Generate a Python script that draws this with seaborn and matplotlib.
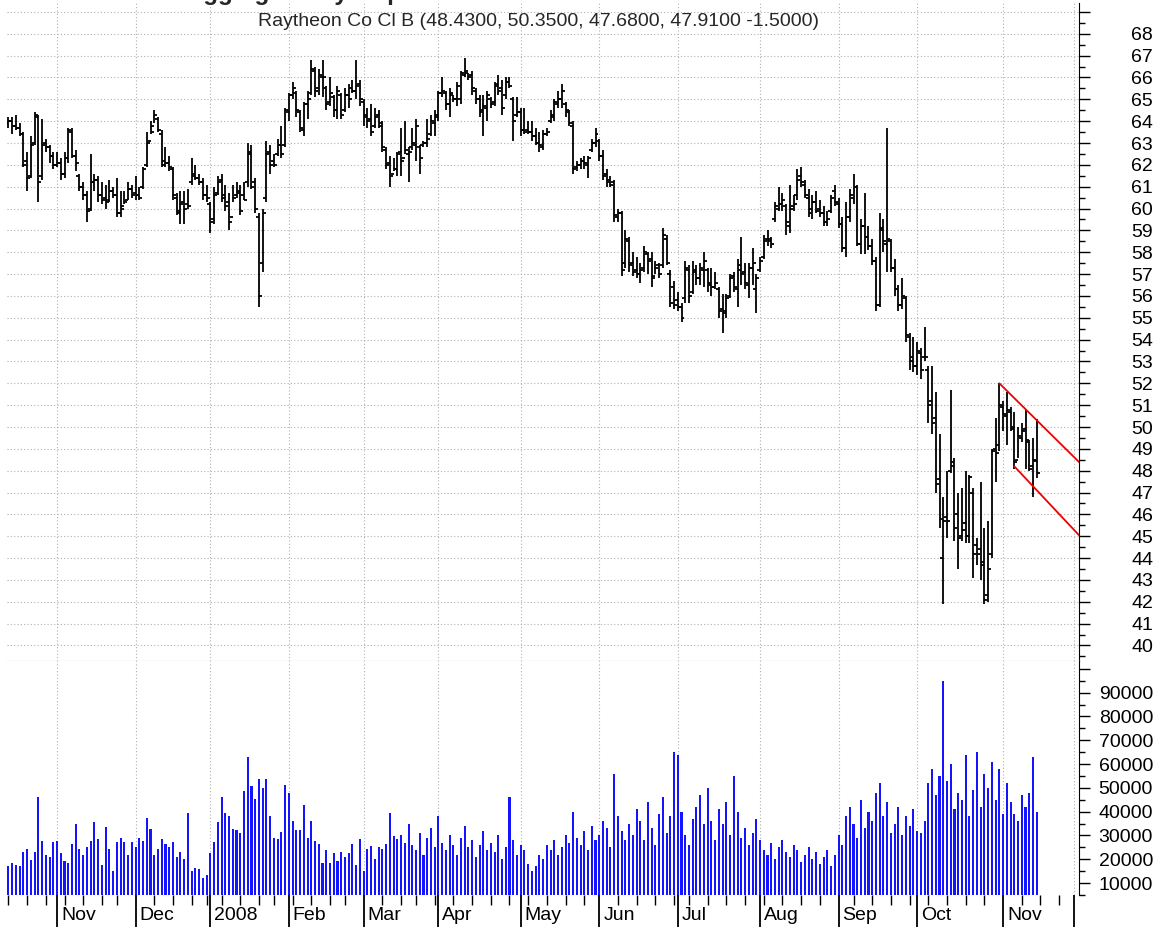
import numpy as np
import pandas as pd
import matplotlib
matplotlib.use("Agg")
import matplotlib.pyplot as plt
import seaborn as sns
from matplotlib.transforms import ScaledTranslation
from matplotlib.ticker import FixedLocator, FixedFormatter, MultipleLocator

# ---------------- data ----------------
holidays = ["2007-11-22", "2007-12-25", "2008-01-01", "2008-01-21", "2008-02-18",
            "2008-03-21", "2008-05-26", "2008-07-04", "2008-09-01", "2008-11-27"]
dates = pd.bdate_range("2007-10-15", "2008-11-14", freq="C", holidays=holidays)
axis_dates = pd.bdate_range("2007-10-15", "2008-12-05", freq="C", holidays=holidays)

highs = [
    64.2, 64.2, 64.3, 63.9, 63.5, 62.6, 63.3, 64.4, 64.3, 64.1, 63.2, 62.9, 62.6,
    62.6, 62.3, 62.6, 63.7, 63.7, 62.7, 61.6, 61.2, 60.8, 62.5, 61.6, 61.5, 61.2, 61.1, 61.3, 61.0, 61.4, 60.8, 60.8, 61.2, 61.1,
    61.5, 61.0, 61.9, 63.5, 64.0, 64.5, 64.2, 63.6, 62.8, 62.4, 61.9, 60.7, 60.8, 60.8, 60.9, 62.3, 62.0, 61.6, 61.4, 61.1,
    60.3, 61.0, 61.5, 61.6, 61.1, 60.7, 61.1, 61.2, 61.1, 61.2, 63.0, 62.9, 61.4, 59.8, 60.0, 63.1, 62.9, 62.5, 63.2, 63.8, 64.6,
    65.3, 65.8, 65.4, 64.5, 64.9, 65.4, 66.8, 66.5, 66.4, 66.8, 65.6, 66.0, 65.2, 65.6, 65.3, 65.5, 65.7, 65.9, 66.8, 65.9,
    65.0, 64.6, 64.8, 64.6, 64.5, 64.0, 62.8, 62.4, 62.3, 62.6, 63.7, 64.0, 62.8, 63.7, 64.1, 62.9, 63.1, 64.1, 64.3, 64.5,
    65.4, 66.0, 65.4, 65.5, 65.2, 65.8, 66.3, 66.9, 66.2, 66.3, 65.5, 65.2, 65.2, 65.4, 65.1, 65.8, 66.1, 65.9, 66.0, 66.0, 65.1, 65.1,
    64.6, 64.6, 64.0, 64.0, 63.7, 63.5, 63.6, 63.7, 64.5, 65.0, 65.4, 65.7, 64.9, 64.5, 64.0, 62.2, 62.3, 62.4, 62.4, 63.2, 63.7,
    63.2, 62.7, 61.8, 61.5, 61.3, 60.0, 59.9, 59.0, 58.7, 58.0, 57.8, 57.5, 58.3, 58.0, 58.0, 57.6, 57.5, 59.1, 58.8, 57.2, 56.7,
    56.2, 55.7, 57.6, 57.4, 57.6, 57.4, 57.5, 58.0, 57.3, 57.3, 57.1, 56.4, 56.1, 56.1, 57.0, 57.1, 57.7, 58.7, 57.5, 57.5, 58.2, 57.0,
    57.8, 58.8, 59.0, 58.7, 60.3, 61.0, 60.7, 60.2, 61.1, 60.6, 61.8, 61.9, 61.3, 60.9, 60.6, 60.8, 60.4, 60.1, 59.9, 60.6, 61.1,
    60.5, 59.6, 60.3, 60.9, 61.6, 61.1, 59.5, 60.7, 59.2, 58.6, 57.8, 59.8, 59.5, 63.7, 58.6, 57.7, 56.5, 56.8, 56.0, 54.3, 54.1,
    53.9, 53.6, 54.6, 52.8, 52.8, 51.6, 49.7, 46.8, 48.0, 51.7, 48.6, 47.0, 47.2, 48.0, 47.8, 47.2, 44.9, 47.5, 45.4, 45.7, 49.0, 50.4, 52.0,
    51.2, 51.6, 50.9, 50.7, 50.0, 50.2, 50.8, 49.4, 49.5, 50.35,
]
lows = [
    63.7, 63.4, 63.6, 63.3, 61.9, 60.8, 61.4, 62.9, 60.3, 61.3, 62.6, 62.1, 61.8,
    61.9, 61.3, 61.4, 62.1, 62.3, 61.7, 60.8, 60.4, 59.4, 59.9, 60.8, 60.3, 60.2, 60.0, 60.3, 60.5, 59.6, 59.6, 60.2, 60.4, 60.5,
    60.4, 60.4, 60.9, 61.9, 63.4, 63.9, 63.5, 61.9, 61.9, 61.7, 60.4, 59.7, 59.3, 59.3, 60.0, 61.1, 61.3, 61.1, 60.4, 60.3,
    58.9, 59.3, 60.6, 60.3, 59.9, 59.0, 60.3, 60.5, 59.7, 60.4, 61.0, 60.9, 59.8, 55.5, 57.1, 60.3, 61.6, 61.9, 62.4, 62.3, 62.8,
    64.0, 65.0, 64.2, 63.5, 63.3, 64.1, 65.2, 65.1, 65.2, 65.1, 64.5, 64.7, 64.2, 64.1, 64.1, 64.4, 64.6, 65.3, 65.0, 64.7,
    63.8, 63.7, 63.3, 63.7, 63.7, 62.6, 61.8, 61.0, 61.7, 61.5, 61.5, 62.5, 61.2, 62.7, 62.2, 61.6, 62.8, 62.8, 63.3, 63.3,
    64.0, 65.1, 64.5, 64.2, 64.9, 64.7, 64.8, 66.0, 65.9, 65.2, 64.8, 64.2, 63.3, 64.0, 64.6, 64.7, 65.2, 64.3, 65.0, 65.5, 63.1, 64.2,
    63.3, 63.4, 63.4, 63.1, 62.9, 62.6, 62.7, 63.3, 63.9, 64.0, 64.6, 64.6, 64.2, 63.8, 61.6, 61.7, 61.8, 61.8, 61.4, 62.6, 62.8,
    62.2, 61.3, 61.0, 61.0, 59.4, 59.4, 56.9, 57.3, 57.1, 56.9, 56.8, 56.6, 57.1, 57.0, 56.4, 57.0, 56.8, 57.3, 57.4, 55.5, 55.4,
    55.3, 54.8, 55.7, 55.7, 56.1, 56.5, 56.5, 56.4, 56.2, 56.0, 56.3, 55.0, 54.3, 55.0, 55.9, 56.2, 55.5, 56.5, 56.3, 55.9, 56.5, 55.2,
    57.1, 57.7, 58.3, 58.2, 59.4, 59.9, 59.9, 58.8, 58.9, 59.9, 60.4, 61.0, 60.5, 59.6, 59.5, 59.8, 59.6, 59.2, 59.2, 59.8, 60.1,
    59.1, 58.0, 57.8, 59.4, 60.2, 58.3, 57.9, 57.9, 58.1, 57.4, 55.3, 55.5, 58.0, 57.1, 57.1, 56.0, 55.3, 55.4, 53.9, 52.6, 52.5,
    52.4, 52.2, 53.0, 50.2, 49.7, 47.0, 45.4, 41.9, 44.9, 47.9, 44.8, 43.5, 44.8, 44.7, 44.7, 43.1, 43.7, 43.0, 41.9, 42.0, 44.0, 47.5, 48.9,
    49.8, 49.2, 49.8, 48.1, 48.6, 49.3, 48.1, 48.0, 46.8, 47.68,
]
closes = [
    64.0, 63.8, 63.7, 63.4, 62.0, 61.4, 62.9, 64.3, 61.2, 62.9, 62.8, 62.4, 62.0,
    62.1, 61.6, 62.3, 63.6, 62.4, 62.1, 61.0, 60.6, 59.9, 61.2, 61.3, 60.6, 60.4, 60.3, 60.8, 60.6, 59.8, 60.0, 60.3, 60.9, 60.6,
    60.6, 60.5, 61.8, 63.0, 63.5, 64.3, 63.6, 62.0, 62.1, 61.9, 60.6, 59.9, 60.2, 60.0, 60.1, 61.5, 61.4, 61.2, 60.6, 60.5,
    59.4, 60.6, 61.2, 60.5, 60.1, 59.4, 60.5, 60.7, 59.9, 60.4, 62.5, 61.0, 60.0, 56.0, 59.8, 62.5, 62.0, 62.0, 62.9, 62.5, 64.5,
    65.2, 65.5, 64.5, 63.7, 64.8, 65.0, 66.4, 65.4, 66.1, 66.0, 64.8, 65.3, 64.5, 65.4, 64.3, 65.2, 65.0, 65.4, 65.6, 65.0,
    64.2, 64.0, 63.5, 64.2, 63.8, 62.8, 62.0, 61.5, 61.8, 62.5, 62.2, 62.7, 62.6, 63.0, 63.8, 62.3, 63.0, 63.2, 64.0, 64.3,
    65.3, 65.4, 64.8, 65.3, 65.0, 65.6, 66.2, 66.3, 66.0, 65.5, 65.0, 64.4, 64.7, 65.2, 64.8, 65.6, 65.4, 64.6, 65.8, 65.6, 64.0, 64.4,
    63.6, 63.5, 63.5, 63.3, 63.0, 62.9, 63.4, 63.5, 64.3, 64.9, 65.0, 65.4, 64.5, 63.9, 61.8, 62.0, 62.2, 62.1, 62.3, 63.0, 63.4,
    62.4, 61.5, 61.2, 61.1, 59.7, 59.8, 57.2, 58.6, 57.4, 57.1, 57.0, 57.2, 58.0, 57.6, 56.8, 57.3, 57.0, 58.8, 57.5, 55.7, 55.6,
    55.5, 55.0, 57.3, 56.0, 57.2, 56.8, 57.3, 57.6, 56.5, 56.4, 56.6, 55.3, 55.2, 55.9, 56.8, 56.4, 57.2, 57.0, 56.6, 57.3, 57.5, 56.8,
    57.6, 58.5, 58.5, 58.4, 60.1, 60.2, 60.4, 59.4, 60.0, 60.2, 61.3, 61.2, 60.6, 60.0, 60.3, 59.9, 59.8, 59.4, 59.5, 60.5, 60.3,
    59.3, 58.2, 59.6, 60.6, 61.0, 58.4, 59.2, 58.7, 58.3, 57.6, 55.6, 59.0, 58.5, 58.6, 57.3, 56.3, 55.6, 56.0, 54.2, 53.0, 52.8,
    53.5, 52.6, 53.2, 51.0, 50.2, 47.4, 45.8, 45.7, 45.7, 48.4, 45.4, 44.9, 45.3, 45.0, 47.7, 44.2, 44.2, 43.7, 42.1, 43.5, 48.9, 48.8, 51.0,
    50.6, 50.8, 50.0, 48.4, 49.6, 49.8, 49.4, 48.1, 48.5, 47.91,
]
opens = [
    63.9, 64.0, 63.8, 63.7, 63.4, 62.2, 61.5, 63.0, 64.2, 61.5, 63.0, 62.8, 62.4,
    62.0, 62.1, 61.6, 62.3, 63.5, 62.4, 61.5, 61.0, 60.6, 60.0, 61.2, 61.3, 60.6, 60.5, 60.4, 60.8, 60.6, 59.8, 60.1, 60.4, 60.9,
    60.7, 60.6, 61.0, 62.0, 63.1, 63.8, 64.1, 63.4, 62.2, 62.1, 61.8, 60.5, 59.8, 60.3, 60.2, 61.2, 61.6, 61.4, 61.2, 60.6,
    60.2, 59.5, 60.7, 61.3, 60.6, 60.3, 59.6, 60.6, 60.8, 60.6, 61.2, 62.6, 61.2, 59.6, 57.5, 60.5, 62.6, 62.2, 62.5, 62.9, 62.9,
    64.4, 65.2, 65.3, 64.4, 63.6, 64.8, 65.3, 66.3, 65.5, 66.0, 65.5, 64.9, 65.1, 64.5, 65.2, 64.5, 65.2, 65.5, 65.4, 65.7,
    64.9, 64.3, 64.1, 63.8, 64.3, 63.9, 62.7, 62.1, 61.6, 61.8, 62.6, 62.3, 62.5, 62.8, 62.9, 62.8, 62.9, 63.0, 63.4, 63.9,
    64.2, 65.3, 65.3, 64.8, 65.2, 65.0, 65.0, 66.1, 66.2, 66.1, 65.4, 65.0, 64.5, 64.6, 65.0, 64.9, 65.7, 65.5, 65.2, 65.8, 65.0, 64.3,
    64.4, 63.6, 63.6, 63.5, 63.3, 63.0, 62.8, 63.4, 64.0, 64.2, 64.8, 65.0, 64.8, 64.4, 63.8, 61.9, 62.0, 62.2, 62.0, 62.7, 63.0,
    63.1, 62.4, 61.6, 61.3, 61.2, 59.6, 59.8, 57.5, 58.5, 57.5, 57.2, 57.0, 57.3, 57.9, 57.7, 56.9, 57.4, 57.4, 58.6, 57.0, 56.4,
    55.8, 55.5, 55.9, 57.2, 56.2, 57.1, 56.8, 57.2, 57.2, 56.6, 56.4, 56.3, 55.4, 55.3, 56.0, 56.9, 56.3, 57.4, 57.1, 56.5, 57.3, 56.3,
    57.2, 57.8, 58.6, 58.6, 59.5, 60.0, 60.2, 60.1, 59.2, 60.1, 60.6, 61.5, 61.1, 60.5, 59.8, 60.3, 60.0, 59.8, 59.4, 59.9, 60.8,
    60.2, 59.3, 58.2, 59.6, 60.5, 61.0, 58.4, 59.2, 58.7, 58.3, 57.6, 55.6, 59.1, 58.4, 58.5, 57.3, 56.3, 55.6, 55.9, 54.1, 53.2,
    52.8, 53.4, 53.2, 52.6, 51.2, 50.4, 47.6, 44.0, 45.9, 48.0, 48.2, 46.0, 45.0, 45.6, 45.0, 47.0, 44.6, 44.4, 43.8, 42.3, 44.2, 49.0, 49.2,
    50.9, 50.5, 50.7, 49.9, 48.5, 49.5, 49.9, 49.3, 48.2, 48.43,
]
volumes = [
    17100, 18500, 17800, 17100, 23200, 24300, 19800, 23200, 46000, 27600, 21800, 21000, 27100,
    27600, 22500, 19200, 18500, 26400, 34900, 24300, 21800, 25100, 27600, 35500, 28400, 17600, 33500, 24300, 15000, 27100, 28900, 27100, 21800, 27100,
    25100, 28900, 27600, 37400, 32800, 21800, 24300, 28400, 26400, 25100, 27100, 21000, 23200, 20300, 39400, 15000, 16400, 15900, 12000, 13200,
    22500, 27100, 35500, 46000, 39400, 38200, 32800, 32300, 30900, 48700, 63100, 50600, 45300, 53800, 50000, 53800, 38200, 28900, 28400, 31600, 51300,
    47900, 36200, 32300, 32300, 42800, 28900, 36200, 27600, 26400, 18400, 23700, 18400, 22500, 19100, 23000, 21000, 22500, 26400, 17600, 28400,
    15200, 24300, 25700, 20300, 25100, 24300, 26400, 39400, 29600, 28400, 30000, 27000, 35000, 26000, 24000, 31000, 22000, 29000, 33000, 25000,
    38000, 27000, 24000, 30000, 26000, 22000, 29000, 34000, 25000, 28000, 21000, 26000, 32000, 24000, 27000, 23000, 30000, 20000, 25000, 46000, 28000, 22000,
    26000, 24000, 18000, 15000, 17000, 22000, 20000, 26000, 24000, 28000, 22000, 25000, 30000, 27000, 40000, 29000, 26000, 32000, 24000, 34000, 28000,
    30000, 36000, 33000, 25000, 56000, 38000, 32000, 28000, 35000, 30000, 41000, 36000, 28000, 44000, 33000, 26000, 39000, 46000, 31000, 38000, 65000,
    64000, 40000, 30000, 26000, 37000, 42000, 47000, 35000, 50000, 36000, 28000, 41000, 35000, 44000, 30000, 55000, 40000, 29000, 33000, 26000, 31000, 37000,
    28000, 24000, 22000, 27000, 20000, 25000, 28000, 23000, 21000, 26000, 24000, 19000, 22000, 25000, 20000, 23000, 18000, 21000, 24000, 17000, 22000,
    30000, 26000, 38000, 42000, 35000, 29000, 45000, 33000, 40000, 36000, 48000, 52000, 38000, 44000, 31000, 35000, 42000, 30000, 38000, 34000, 41000,
    32000, 31000, 36000, 52000, 58000, 47000, 55000, 95000, 53000, 60000, 41000, 48000, 45000, 64000, 38000, 49000, 65000, 42000, 56000, 50000, 61000, 45000, 58000,
    39000, 52000, 44000, 39000, 36000, 47000, 42000, 48000, 63000, 40000,
]

# flag trend lines (bar index, price)
upper_x = [265.0, 286.3]
upper_y = [52.0, 48.4]
lower_x = [269.0, 286.3]
lower_y = [48.2, 45.05]

title_text = "Raytheon Co Cl B (48.4300, 50.3500, 47.6800, 47.9100 -1.5000)"
headline = "Flagging Nicely - Update"
price_ticks = list(range(40, 70))
price_labels = [str(v) for v in range(40, 69)] + [""]
vol_ticks = list(range(10000, 110000, 10000))
vol_labels = [str(v) for v in range(10000, 100000, 10000)] + [""]

# ---------------- style ----------------
sns.set_style("white")
plt.rcParams["font.family"] = ["Liberation Sans", "DejaVu Sans"]
FS = 14
GRID = dict(color="#b0b0b0", linestyle=(0, (1, 2)), linewidth=0.8)

n = len(closes)
xi = np.arange(n)

W, H = 1163, 927
fig = plt.figure(figsize=(W / 100, H / 100), dpi=100)
left, right = 7.3, 1079.0
axp = fig.add_axes([left / W, (H - 661) / H, (right - left) / W, (661 - 3) / H])
axv = fig.add_axes([left / W, (H - 895) / H, (right - left) / W, (895 - 661) / H], sharex=axp)

# ---- price bars ----
axp.vlines(xi, lows, highs, color="black", linewidth=1.3)
axp.hlines(opens, xi - 0.8, xi, color="black", linewidth=1.3)
axp.hlines(closes, xi, xi + 0.8, color="black", linewidth=1.3)
sns.lineplot(x=upper_x, y=upper_y, color="#ee0000", linewidth=1.3, ax=axp)
sns.lineplot(x=lower_x, y=lower_y, color="#ee0000", linewidth=1.3, ax=axp)

# ---- volume bars ----
sns.barplot(x=xi, y=volumes, native_scale=True, color="#1414ff", width=0.55,
            saturation=1, errorbar=None, linewidth=0, ax=axv)

# ---- axes limits ----
axp.set_xlim(-0.3, 286.3)
axp.set_ylim(39.29, 69.41)
axv.set_ylim(5000, 103300)

# ---- x ticks: month starts (major) and weeks (minor) ----
month_pos, month_lab, week_pos = [], [], []
for i in range(len(axis_dates)):
    d = axis_dates[i]
    if i > 0 and d.month != axis_dates[i - 1].month and i < 287:
        month_pos.append(i)
        month_lab.append("" if i >= n else ("2008" if d.month == 1 else d.strftime("%b")))
    if (i == 0 or d.weekday() < axis_dates[i - 1].weekday()) and i < 287:
        week_pos.append(i)
week_pos = [p for p in week_pos if p not in month_pos]

axv.set_xticks(month_pos)
axv.set_xticklabels(month_lab)
axv.set_xticks(week_pos, minor=True)
axv.tick_params(axis="x", which="major", bottom=True, length=23, width=1.3, pad=-14,
                labelsize=FS, colors="black")
axv.tick_params(axis="x", which="minor", bottom=True, length=7, width=1.0, colors="black")
for lab in axv.get_xticklabels():
    lab.set_horizontalalignment("left")
    lab.set_transform(lab.get_transform() + ScaledTranslation(0.04, 0, fig.dpi_scale_trans))
axp.tick_params(axis="x", which="both", bottom=False, labelbottom=False)

# ---- y ticks on the right ----
for ax, ticks, labels, minor in ((axp, price_ticks, price_labels, 0.5),
                                 (axv, vol_ticks, vol_labels, 5000)):
    ax.yaxis.set_major_locator(FixedLocator(ticks))
    ax.yaxis.set_major_formatter(FixedFormatter(labels))
    ax.yaxis.set_minor_locator(MultipleLocator(minor))
    ax.tick_params(axis="y", which="both", left=False, labelleft=False, right=True,
                   labelright=True, colors="black")
    ax.tick_params(axis="y", which="major", length=8, width=1.0, pad=45.3, labelsize=FS)
    ax.tick_params(axis="y", which="minor", length=4.5, width=1.0)
    for lab in ax.get_yticklabels():
        lab.set_horizontalalignment("right")

# ---- grids and spines ----
axp.set_axisbelow(True)
axv.set_axisbelow(True)
axp.grid(True, which="major", axis="both", **GRID)
axv.grid(True, which="major", axis="x", **GRID)
axv.grid(False, axis="y")
for ax in (axp, axv):
    ax.spines["left"].set_visible(False)
    ax.spines["top"].set_visible(False)
    ax.spines["right"].set_color("black")
    ax.spines["right"].set_linewidth(0.8)
axp.spines["bottom"].set_color("#e2e2e2")
axp.spines["bottom"].set_linewidth(1.0)
axv.spines["bottom"].set_visible(False)
axp.set_xlabel("")
axv.set_xlabel("")
axp.set_ylabel("")
axv.set_ylabel("")

# ---- titles ----
fig.text(538 / W, 1 - 22 / H, title_text, ha="center", va="center", fontsize=FS)
# headline sits mostly above the canvas; only its descenders show, as in the source
fig.text(168 / W, 1 + 0.5 / H, headline, ha="left", va="baseline", fontsize=17.5,
         fontweight="bold")

fig.savefig("out.png", dpi=100, facecolor="white")
